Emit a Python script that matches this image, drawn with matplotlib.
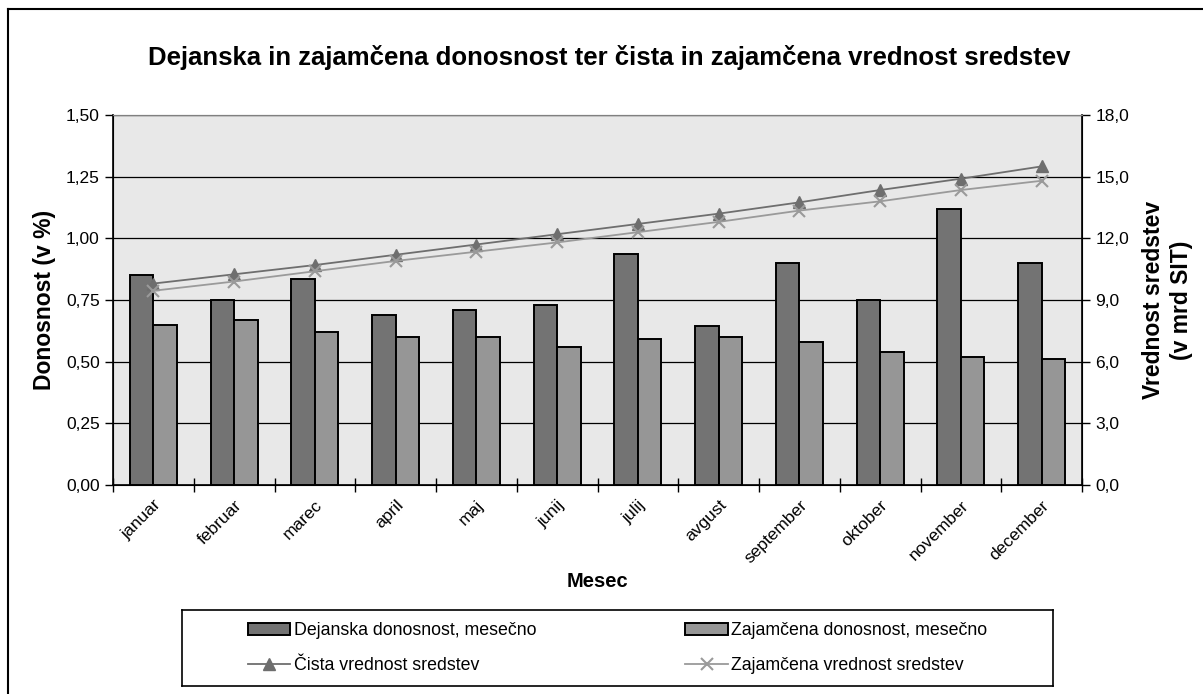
import matplotlib
matplotlib.use('Agg')
import matplotlib.pyplot as plt
import matplotlib.transforms as mtransforms
import numpy as np
from matplotlib.ticker import FuncFormatter, MultipleLocator
from matplotlib.lines import Line2D

plt.rcParams['font.family'] = ['Liberation Sans', 'DejaVu Sans']

# podatki
meseci = ['januar', 'februar', 'marec', 'april', 'maj', 'junij', 'julij',
          'avgust', 'september', 'oktober', 'november', 'december']
dejanska = [0.85, 0.75, 0.835, 0.69, 0.71, 0.73, 0.935, 0.645, 0.90, 0.75, 1.12, 0.90]
zajamcena = [0.65, 0.67, 0.62, 0.60, 0.60, 0.56, 0.59, 0.60, 0.58, 0.54, 0.52, 0.51]
cista_vred = [9.8, 10.25, 10.7, 11.2, 11.7, 12.2, 12.7, 13.2, 13.75, 14.35, 14.9, 15.5]
zaj_vred = [9.45, 9.9, 10.4, 10.9, 11.35, 11.8, 12.3, 12.8, 13.35, 13.8, 14.35, 14.8]

fig = plt.figure(figsize=(12.03, 6.94), dpi=100)
ax = fig.add_axes([113/1203, 1 - 485/694, 969/1203, 370/694])
ax.set_facecolor('#e8e8e8')

x = np.arange(len(meseci))
w = 0.29
ax.bar(x - w/2, dejanska, w, color='#737373', edgecolor='black', lw=1.4, zorder=3)
ax.bar(x + w/2, zajamcena, w, color='#969696', edgecolor='black', lw=1.4, zorder=3)

ax.set_xlim(-0.5, 11.5)
ax.set_ylim(0, 1.5)
ax.yaxis.set_major_locator(MultipleLocator(0.25))
ax.yaxis.set_major_formatter(FuncFormatter(lambda v, p: f'{v:.2f}'.replace('.', ',')))
ax.grid(axis='y', color='black', lw=0.9, zorder=1)
ax.set_xticks(np.arange(-0.5, 12, 1))
ax.set_xticklabels([])
ax.set_xticks(x, minor=True)
ax.set_xticklabels(meseci, minor=True, rotation=45, ha='right', rotation_mode='anchor', fontsize=12.5)
off = mtransforms.ScaledTranslation(-4/100, 0, fig.dpi_scale_trans)
for t in ax.get_xticklabels(minor=True):
    t.set_transform(t.get_transform() + off)
ax.tick_params(axis='x', which='minor', length=0, pad=9)
ax.tick_params(axis='x', which='major', direction='inout', length=10, width=1)
ax.tick_params(axis='y', labelsize=12.5, length=6, width=1)
ax.spines['top'].set_color('#808080')
for s in ['left', 'bottom', 'right']:
    ax.spines[s].set_linewidth(1.2)

ax.set_ylabel('Donosnost (v %)', fontsize=16.5, fontweight='bold', labelpad=7)
ax.set_xlabel('Mesec', fontsize=14.5, fontweight='bold', labelpad=4)

ax2 = ax.twinx()
ax2.plot(x, cista_vred, color='#6e6e6e', marker='^', ms=9, lw=1.3, zorder=4)
ax2.plot(x, zaj_vred, color='#9a9a9a', marker='x', ms=9, mew=1.5, lw=1.3, zorder=4)
ax2.set_ylim(0, 18)
ax2.yaxis.set_major_locator(MultipleLocator(3))
ax2.yaxis.set_major_formatter(FuncFormatter(lambda v, p: f'{v:.1f}'.replace('.', ',')))
ax2.tick_params(axis='y', labelsize=12.5, length=6, width=1)
ax2.set_ylabel('Vrednost sredstev\n(v mrd SIT)', fontsize=16.5, fontweight='bold',
               rotation=90, labelpad=9, linespacing=1.3)
ax2.spines['top'].set_color('#808080')

fig.suptitle('Dejanska in zajamčena donosnost ter čista in zajamčena vrednost sredstev',
             x=609/1203, y=1 - 57/694, va='center', fontsize=18.5, fontweight='bold')

handles = [
    plt.Rectangle((0, 0), 1, 1, facecolor='#737373', edgecolor='black', lw=1.4),
    Line2D([], [], color='#6e6e6e', marker='^', ms=9, lw=1.3),
    plt.Rectangle((0, 0), 1, 1, facecolor='#969696', edgecolor='black', lw=1.4),
    Line2D([], [], color='#9a9a9a', marker='x', ms=9, mew=1.5, lw=1.3),
]
labels = ['Dejanska donosnost, mesečno', 'Čista vrednost sredstev',
          'Zajamčena donosnost, mesečno', 'Zajamčena vrednost sredstev']
leg_ax = fig.add_axes([182/1203, 1 - 686/694, 871/1203, 76/694])
leg_ax.set_xticks([])
leg_ax.set_yticks([])
for s in leg_ax.spines.values():
    s.set_linewidth(1.2)
leg = leg_ax.legend(handles, labels, ncol=2, loc='center', frameon=False, fontsize=12.8,
                    columnspacing=8.4, handlelength=2.4, handletextpad=0.17, labelspacing=1.0)

# okvir slike (samo levo in zgoraj)
fig.add_artist(Line2D([8/1203, 8/1203], [0, 1 - 9/694], color='black', lw=1.5,
                      transform=fig.transFigure))
fig.add_artist(Line2D([8/1203, 1], [1 - 9/694, 1 - 9/694], color='black', lw=1.5,
                      transform=fig.transFigure))

fig.savefig('out.png', dpi=100)
